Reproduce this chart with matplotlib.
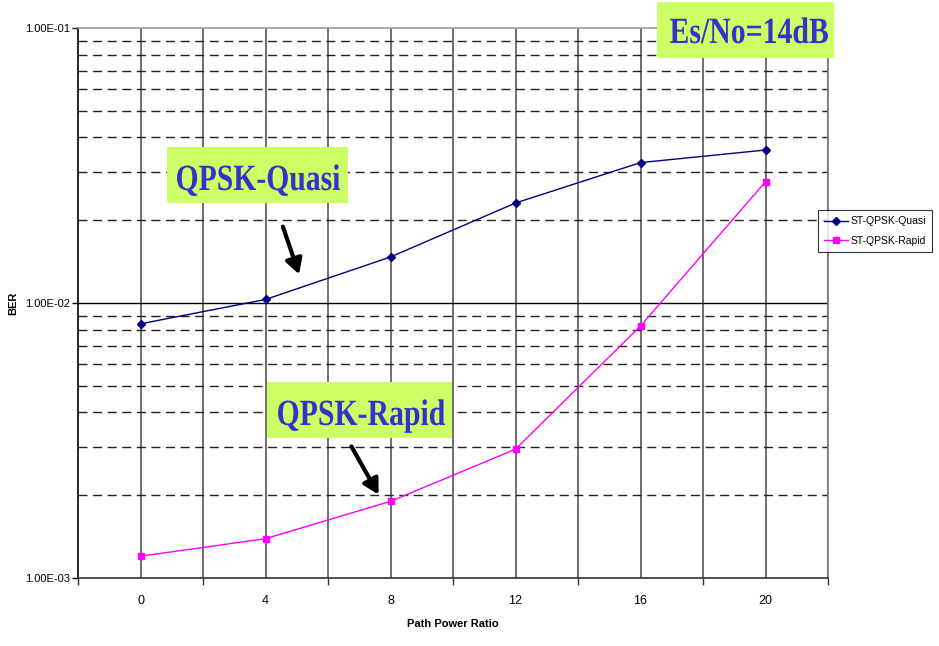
import numpy as np
import matplotlib.pyplot as plt
from matplotlib.ticker import FixedLocator, NullFormatter
from matplotlib.textpath import TextPath
from matplotlib.patches import PathPatch, Rectangle
from matplotlib.font_manager import FontProperties
from matplotlib.transforms import Affine2D

# дані з графіка
ratio_labels = ['0', '4', '8', '12', '16', '20']
ber_quasi = [8.4e-3, 1.03e-2, 1.47e-2, 2.31e-2, 3.24e-2, 3.6e-2]
ber_rapid = [1.2e-3, 1.39e-3, 1.9e-3, 2.94e-3, 8.25e-3, 2.76e-2]
ytick_labels = ['1.00E-03', '1.00E-02', '1.00E-01']

plt.rcParams['font.family'] = ['Liberation Sans', 'DejaVu Sans']

W, H = 939, 646
fig = plt.figure(figsize=(W / 100, H / 100), dpi=100)
ax = fig.add_axes([78/W, 68/H, 750/W, 550/H])

x = np.arange(len(ratio_labels))
ax.set_yscale('log')
ax.set_ylim(1e-3, 1e-1)
ax.set_xlim(-0.5, len(x) - 0.5)

# сітка
for xv in np.arange(-0.5, len(x), 0.5)[1:]:
    ax.axvline(xv, color='#555555', lw=1.2, zorder=1)
minor_y = [m * 10.0**e for e in (-3, -2) for m in range(2, 10)]
for yv in minor_y:
    ax.axhline(yv, color='#222222', lw=1.0, dashes=(6.5, 4), zorder=1)
ax.axhline(1e-2, color='black', lw=1.0, zorder=1)

ax.plot(x, ber_quasi, color='#000080', marker='D', markersize=4, lw=1, label='ST-QPSK-Quasi', zorder=3)
ax.plot(x, ber_rapid, color='#ff00ff', marker='s', markersize=4.5, lw=1, label='ST-QPSK-Rapid', zorder=3)

# осі
ax.xaxis.set_major_locator(FixedLocator(x))
ax.set_xticklabels(ratio_labels, fontsize=9)
ax.xaxis.set_minor_locator(FixedLocator(np.arange(-0.5, len(x), 1.0)))
ax.xaxis.set_minor_formatter(NullFormatter())
ax.tick_params(axis='x', which='major', length=0, pad=12)
ax.tick_params(axis='x', which='minor', length=5, width=1, color='#333333', direction='out')

ax.yaxis.set_major_locator(FixedLocator([1e-3, 1e-2, 1e-1]))
ax.set_yticklabels(ytick_labels, fontsize=8)
ax.yaxis.set_minor_locator(FixedLocator([]))
ax.tick_params(axis='y', which='major', length=4, width=1, direction='out', pad=2)

ax.spines['left'].set_color('black')
ax.spines['bottom'].set_color('#333333')
ax.spines['top'].set_color('#999999')
ax.spines['right'].set_color('#777777')
for s in ax.spines.values():
    s.set_linewidth(1.2)

ax.set_xlabel('Path Power Ratio', fontsize=8, fontweight='bold', labelpad=9)
ax.set_ylabel('BER', fontsize=8, fontweight='bold')
ax.yaxis.set_label_coords(-0.08, 0.5)

leg = ax.legend(loc='center left', bbox_to_anchor=(818/W, (H - 231)/H), bbox_transform=fig.transFigure,
                fontsize=7.5, frameon=True, fancybox=False, edgecolor='black', handlelength=2.3,
                borderpad=0.6, labelspacing=0.9, handletextpad=0.2, borderaxespad=0)
leg.get_frame().set_linewidth(0.8)

# підписи в рамках (вузький шрифт через масштабування контуру)
fp = FontProperties(family='Liberation Serif', weight='bold')


def label_box(s, box, text_x, baseline, size_px=37):
    bx0, by0, bx1, by1 = box
    fig.add_artist(Rectangle((bx0 / W, 1 - by1 / H), (bx1 - bx0) / W, (by1 - by0) / H,
                             transform=fig.transFigure, fc='#ccff66', ec='none', zorder=5))
    tp = TextPath((0, 0), s, size=size_px, prop=fp)
    ext = tp.get_extents()
    sx = (text_x[1] - text_x[0]) / ext.width
    tr = (Affine2D().translate(-ext.x0, 0).scale(sx, 1)
          .translate(text_x[0], H - baseline).scale(1 / W, 1 / H))
    fig.add_artist(PathPatch(tr.transform_path(tp), fc='#3333cc', ec='none',
                             transform=fig.transFigure, zorder=6))


label_box('Es/No=14dB', (657, 2, 834, 58), (670, 828), 43)
label_box('QPSK-Quasi', (167, 147, 348, 203), (177, 340), 190)
label_box('QPSK-Rapid', (267, 382, 452, 438), (278, 445), 425)

# стрілки
arrow = dict(arrowstyle='-|>,head_length=0.9,head_width=0.5', color='black', lw=3)
ax.annotate('', xy=(300/W, (H - 277)/H), xytext=(282/W, (H - 224)/H),
            xycoords='figure fraction', textcoords='figure fraction', arrowprops=arrow)
ax.annotate('', xy=(380/W, (H - 497)/H), xytext=(350/W, (H - 444)/H),
            xycoords='figure fraction', textcoords='figure fraction', arrowprops=arrow)

fig.savefig('out.png', dpi=100)
